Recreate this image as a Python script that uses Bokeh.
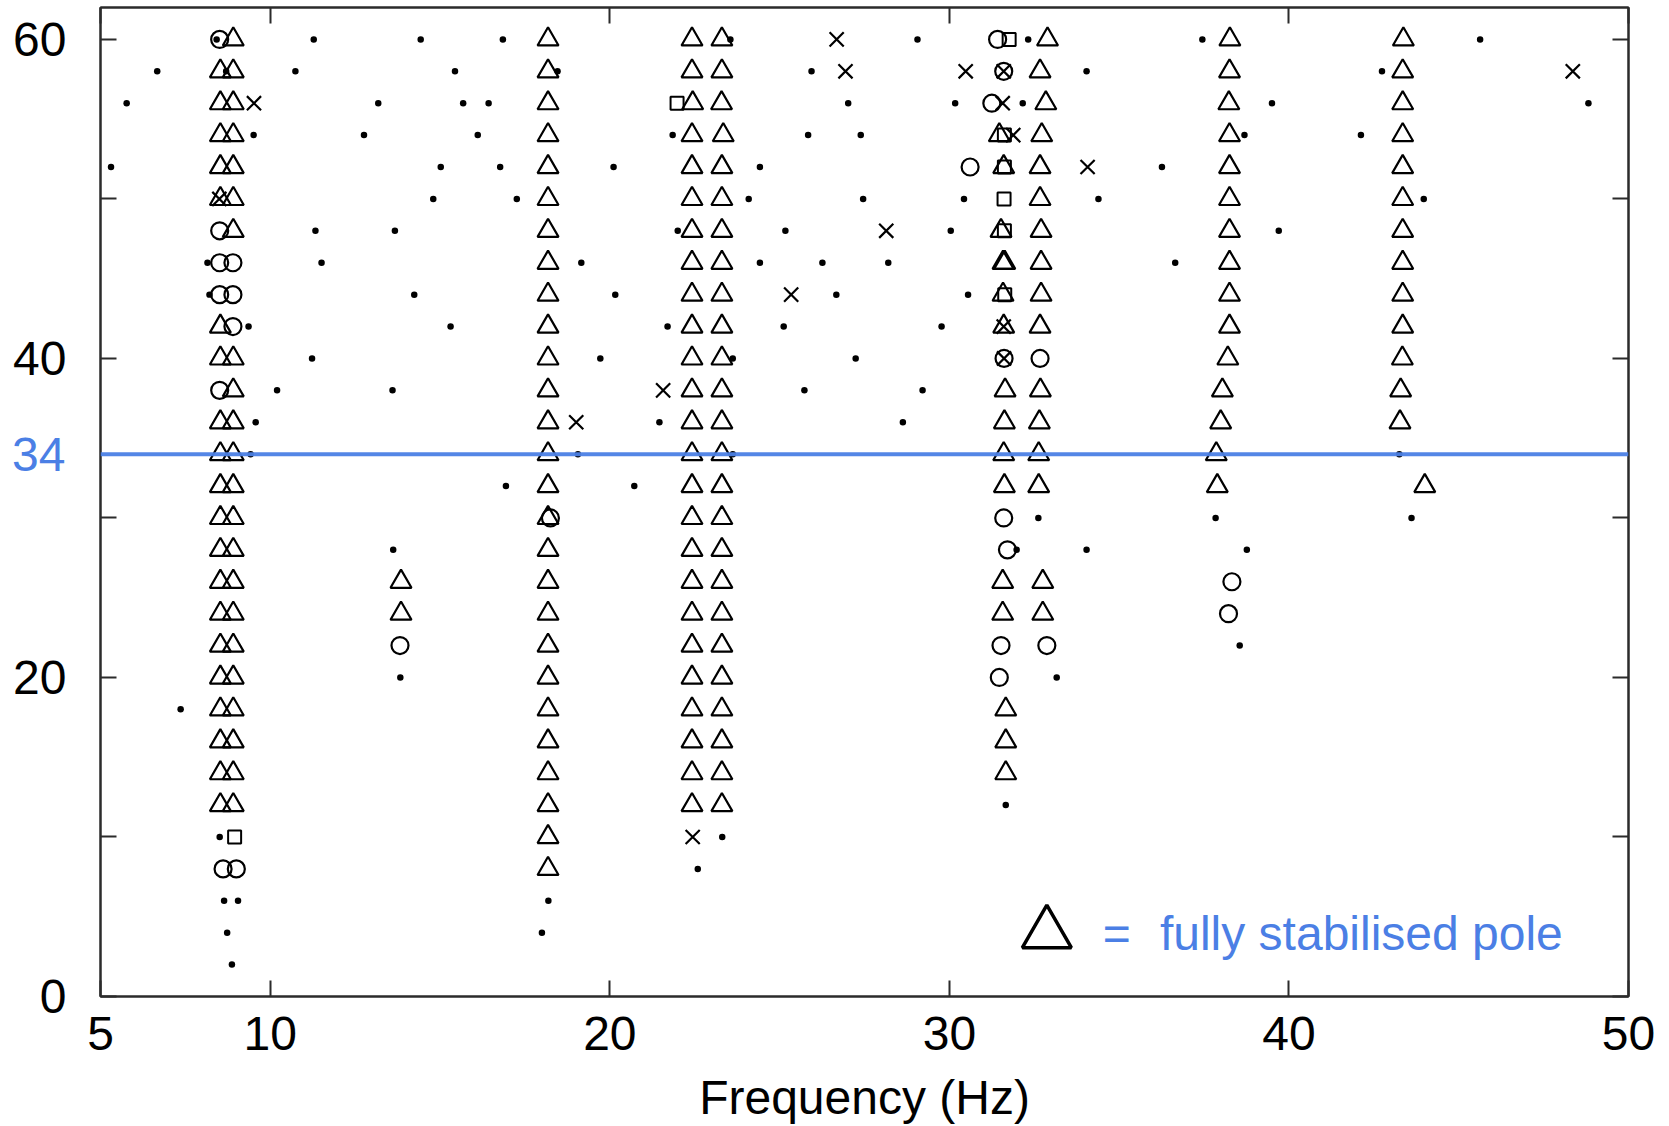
from bokeh.plotting import figure
from bokeh.models import FixedTicker, LinearAxis, Span, Label, Range1d
from bokeh.embed import file_html
from bokeh.resources import INLINE

# ---- axis ticks -------------------------------------------------------------
FREQ_TICKS = [5, 10, 20, 30, 40, 50]
ORDER_TICKS = [0, 10, 20, 30, 40, 50, 60]
ORDER_LABELS = {0: "0", 20: "20", 40: "40", 60: "60"}
SELECTED_ORDER = 34
KEY_EQ = "="
KEY_TEXT = "fully stabilised pole"
X_TITLE = "Frequency (Hz)"

# ---- poles: model order -> identified frequencies (Hz) ----------------------
# fully stabilised poles (frequency, damping and mode shape)
STABLE_ALL = {
    60: [8.91, 18.18, 22.42, 23.30, 32.89, 38.26, 43.37],
    58: [8.53, 8.91, 18.18, 22.42, 23.30, 32.67, 38.25, 43.35],
    56: [8.53, 8.91, 18.18, 22.44, 23.29, 32.84, 38.23, 43.35],
    54: [8.53, 8.91, 18.18, 22.42, 23.34, 31.47, 32.72, 38.25, 43.35],
    52: [8.53, 8.91, 18.18, 22.42, 23.30, 31.60, 32.67, 38.25, 43.35],
    50: [8.53, 8.91, 18.18, 22.42, 23.30, 32.67, 38.25, 43.35],
    48: [8.91, 18.18, 22.42, 23.30, 31.52, 32.70, 38.25, 43.35],
    46: [18.18, 22.42, 23.30, 31.58, 31.63, 32.70, 38.25, 43.35],
    44: [18.18, 22.42, 23.30, 31.58, 32.70, 38.25, 43.35],
    42: [8.53, 18.18, 22.42, 23.30, 31.60, 32.67, 38.25, 43.35],
    40: [8.53, 8.91, 18.18, 22.42, 23.30, 38.20, 43.34],
    38: [8.91, 18.18, 22.42, 23.30, 31.64, 32.68, 38.04, 43.29],
    36: [8.53, 8.91, 18.18, 22.42, 23.30, 31.62, 32.65, 37.99, 43.27],
    34: [8.53, 8.91, 18.18, 22.42, 23.30, 31.60, 32.63, 37.86],
    32: [8.53, 8.91, 18.18, 22.42, 23.30, 31.62, 32.63, 37.89, 44.00],
    30: [8.53, 8.91, 18.18, 22.42, 23.30],
    28: [8.53, 8.91, 18.18, 22.42, 23.30],
    26: [8.53, 8.91, 13.85, 18.18, 22.42, 23.30, 31.57, 32.75],
    24: [8.53, 8.91, 13.85, 18.18, 22.42, 23.30, 31.57, 32.75],
    22: [8.53, 8.91, 18.18, 22.42, 23.30],
    20: [8.53, 8.91, 18.18, 22.42, 23.30],
    18: [8.53, 8.91, 18.18, 22.42, 23.30, 31.66],
    16: [8.53, 8.91, 18.18, 22.42, 23.30, 31.66],
    14: [8.53, 8.91, 18.18, 22.42, 23.30, 31.66],
    12: [8.53, 8.91, 18.18, 22.42, 23.30],
    10: [18.18],
    8: [18.18],
}

# stable frequency and mode shape
STABLE_FREQ_MODE = {
    60: [8.51, 31.42],
    58: [31.60],
    56: [31.25],
    52: [30.61],
    48: [8.51],
    46: [8.51, 8.90],
    44: [8.51, 8.90],
    42: [8.90],
    40: [31.61, 32.67],
    38: [8.51],
    30: [18.25, 31.60],
    28: [31.71],
    26: [38.32],
    24: [38.22],
    22: [13.82, 31.52, 32.87],
    20: [31.47],
    8: [8.61, 9.00],
}

# stable frequency and damping
STABLE_FREQ_DAMP = {
    60: [31.76],
    56: [21.98],
    54: [31.62],
    52: [31.62],
    50: [31.61],
    48: [31.62],
    44: [31.63],
    10: [8.95],
}

# stable frequency only
STABLE_FREQ = {
    60: [26.68],
    58: [26.94, 30.48, 31.60, 48.36],
    56: [9.52, 31.57],
    54: [31.88],
    52: [34.07],
    50: [8.50],
    48: [28.14],
    44: [25.34],
    42: [31.60],
    40: [31.61],
    38: [21.57],
    36: [19.01],
    10: [22.44],
}

# new / unstable poles
NEW_POLE = {
    60: [8.42, 11.28, 14.43, 16.85, 23.55, 29.06, 32.32, 37.45, 45.63],
    58: [6.67, 8.70, 10.74, 15.44, 18.46, 25.94, 34.04, 42.74],
    56: [5.77, 13.18, 15.68, 16.43, 27.02, 30.17, 32.16, 39.50, 48.82],
    54: [9.51, 12.76, 16.11, 21.85, 25.84, 27.39, 38.69, 42.12],
    52: [5.31, 15.02, 16.77, 20.11, 24.42, 36.26],
    50: [14.80, 17.26, 24.09, 27.46, 30.43, 34.39, 43.97],
    48: [11.33, 13.67, 22.00, 25.17, 30.04, 39.70],
    46: [8.15, 11.51, 19.16, 24.42, 26.26, 28.20, 36.65],
    44: [8.21, 14.24, 20.16, 26.67, 30.55],
    42: [9.36, 15.31, 21.70, 25.12, 29.77],
    40: [11.23, 19.72, 23.62, 27.24],
    38: [10.20, 13.60, 25.73, 29.21],
    36: [9.57, 21.46, 28.63],
    34: [9.42, 19.06, 23.62, 43.25],
    32: [16.94, 20.72],
    30: [32.62, 37.84, 43.61],
    28: [13.62, 31.98, 34.04, 38.76],
    22: [38.55],
    20: [13.83, 33.16],
    18: [7.36],
    12: [31.66],
    10: [8.51, 23.31],
    8: [22.59],
    6: [8.64, 9.05, 18.19],
    4: [8.73, 18.00],
    2: [8.87],
}

# ---- styling ----------------------------------------------------------------
FONT = "Liberation Sans"
FONT_SIZE = "48px"
BLUE = "#4b7fe5"
FRAME = "#2b2b2b"
KEY_MARK_X, KEY_MARK_Y = 32.87, 3.95
KEY_EQ_X, KEY_TEXT_X, KEY_TEXT_Y = 34.52, 36.2, 3.95


def flatten(table):
    freqs, orders = [], []
    for order, values in table.items():
        for f in values:
            freqs.append(f)
            orders.append(order)
    return freqs, orders


p = figure(
    width=1669, height=1126,
    x_range=Range1d(5, 50), y_range=Range1d(0, 62),
    output_backend="svg", toolbar_location=None,
    min_border_left=100, min_border_right=41,
    min_border_top=7, min_border_bottom=130,
    background_fill_color="white", border_fill_color="white",
)
p.xgrid.visible = False
p.ygrid.visible = False
p.outline_line_color = FRAME
p.outline_line_width = 2


def style_axis(ax, ticks, labels=None, standoff=12):
    ax.ticker = FixedTicker(ticks=ticks)
    if labels is not None:
        ax.major_label_overrides = labels
    ax.major_tick_in = 16
    ax.major_tick_out = 0
    ax.minor_tick_in = 0
    ax.minor_tick_out = 0
    ax.major_tick_line_width = 2
    ax.major_tick_line_color = FRAME
    ax.axis_line_width = 2
    ax.axis_line_color = FRAME
    ax.major_label_text_font = FONT
    ax.major_label_text_font_size = FONT_SIZE
    ax.major_label_text_color = "black"
    ax.major_label_standoff = standoff


xa = p.xaxis[0]
style_axis(xa, FREQ_TICKS, standoff=20)
xa.axis_label = X_TITLE
xa.axis_label_text_font = FONT
xa.axis_label_text_font_size = FONT_SIZE
xa.axis_label_text_font_style = "normal"
xa.axis_label_text_color = "black"
xa.axis_label_standoff = 18

ya = p.yaxis[0]
style_axis(ya, ORDER_TICKS,
           {t: ORDER_LABELS.get(t, "") for t in ORDER_TICKS}, standoff=34)

# tick marks on the opposite sides of the box, without labels
for side, ticks in (("right", ORDER_TICKS), ("above", FREQ_TICKS)):
    ax = LinearAxis()
    style_axis(ax, ticks, {t: "" for t in ticks}, standoff=0)
    ax.major_label_text_font_size = "1px"
    p.add_layout(ax, side)

# blue label of the selected model order: a second left axis stacked outside
# the first one, its label pulled back in line with the black labels
sel_axis = LinearAxis()
style_axis(sel_axis, [SELECTED_ORDER], {SELECTED_ORDER: str(SELECTED_ORDER)},
           standoff=-55)
sel_axis.axis_line_color = None
sel_axis.major_tick_line_color = None
sel_axis.major_tick_in = 0
sel_axis.major_label_text_color = BLUE
p.add_layout(sel_axis, "left")

# pole markers
fx, fy = flatten(STABLE_ALL)
p.scatter(fx, fy, marker="triangle", size=21, fill_color=None,
          line_color="black", line_width=2.2)
fx, fy = flatten(STABLE_FREQ_MODE)
p.scatter(fx, fy, marker="circle", size=17, fill_color=None,
          line_color="black", line_width=2.2)
fx, fy = flatten(STABLE_FREQ_DAMP)
p.scatter(fx, fy, marker="square", size=13, fill_color=None,
          line_color="black", line_width=2)
fx, fy = flatten(STABLE_FREQ)
p.scatter(fx, fy, marker="x", size=20, line_color="black", line_width=2.2)
fx, fy = flatten(NEW_POLE)
p.scatter(fx, fy, marker="circle", size=6.5, fill_color="black",
          line_color=None)

# selected model order
p.add_layout(Span(location=SELECTED_ORDER, dimension="width",
                  line_color=BLUE, line_width=4, line_alpha=0.95))

# key
p.scatter([KEY_MARK_X], [KEY_MARK_Y], marker="triangle", size=49,
          fill_color=None, line_color="black", line_width=3.5)
for kx, txt in ((KEY_EQ_X, KEY_EQ), (KEY_TEXT_X, KEY_TEXT)):
    p.add_layout(Label(x=kx, y=KEY_TEXT_Y, text=txt,
                       text_align="left", text_baseline="alphabetic",
                       text_font=FONT, text_font_size=FONT_SIZE,
                       text_color=BLUE))

open("out.html", "w").write(file_html(p, INLINE))
